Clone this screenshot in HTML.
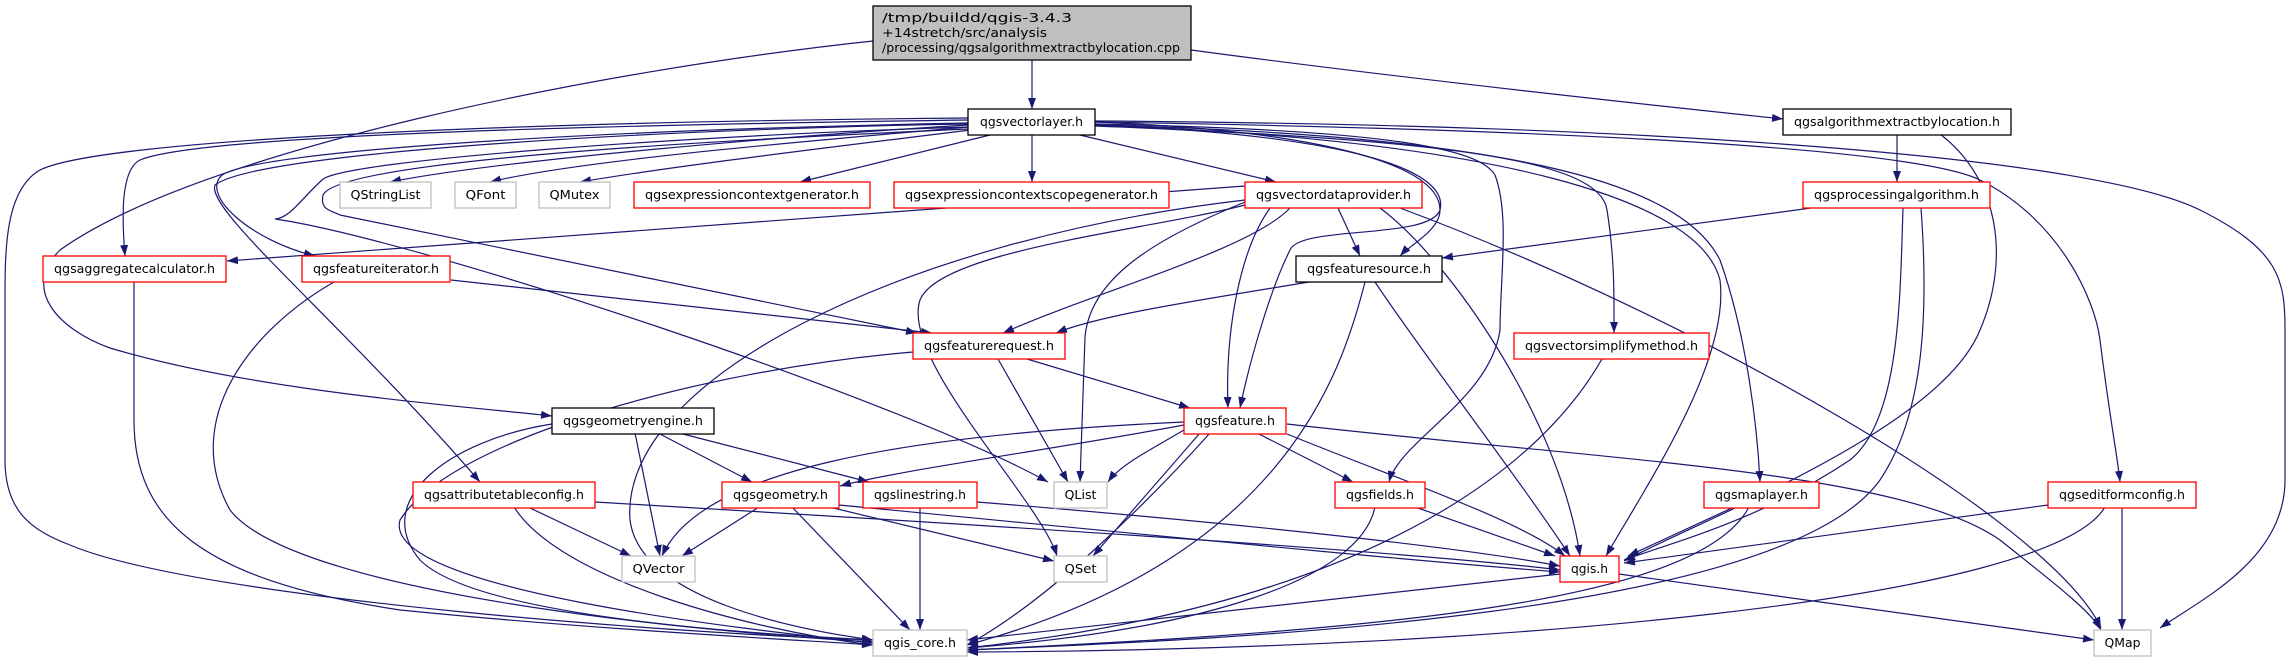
<!DOCTYPE html>
<html><head><meta charset="utf-8"><style>
html,body{margin:0;padding:0;background:#fff;}
svg{display:block;}
text{font-family:"DejaVu Sans","Liberation Sans",sans-serif;font-size:12px;fill:#000;}
.e{fill:none;stroke:#191970;stroke-width:1.2;marker-end:url(#a);}
.n{fill:#fff;stroke-width:1.3;}
.k{stroke:#000;}.r{stroke:#ff0000;}.g{stroke:#bfbfbf;}
</style></head><body>
<svg width="2289" height="664" viewBox="0 0 2289 664" xmlns="http://www.w3.org/2000/svg">
<defs><marker id="a" markerUnits="userSpaceOnUse" markerWidth="11" markerHeight="8" refX="11" refY="4" orient="auto"><path d="M0,0 L11,4 L0,8 z" fill="#191970"/></marker></defs>
<g>
<path class="e" d="M1032,60 L1032,109"/>
<path class="e" d="M1191,50 C1400,78 1650,105 1783,119"/>
<path class="e" d="M873,41 C600,70 200,150 60,250 C20,290 60,330 110,348 C250,390 450,405 552,416"/>
<path class="e" d="M968,125 C800,135 500,160 390,182"/>
<path class="e" d="M968,127 C820,140 580,160 490,182"/>
<path class="e" d="M970,130 C850,145 680,165 580,182"/>
<path class="e" d="M990,135 L800,182"/>
<path class="e" d="M1032,135 L1032,182"/>
<path class="e" d="M968,120 C600,125 200,135 140,160 C120,170 122,220 125,256"/>
<path class="e" d="M968,118 C500,122 100,140 40,170 C5,190 5,250 5,300 L5,460 C5,510 30,530 70,545 C200,600 700,635 873,640"/>
<path class="e" d="M968,123 C600,130 260,150 222,175 C200,195 250,240 315,256"/>
<path class="e" d="M968,124 C700,128 260,150 215,185 C205,210 340,320 480,482"/>
<path class="e" d="M968,127 C700,135 340,160 322,180 C300,200 290,218 275,219 C420,240 900,400 1048,482"/>
<path class="e" d="M968,129 C720,140 340,160 323,195 C320,210 330,210 340,215 L917,333"/>
<path class="e" d="M1080,135 L1276,182"/>
<path class="e" d="M1095,122 C1300,130 1440,160 1440,210 C1440,230 1410,245 1400,256"/>
<path class="e" d="M1095,125 C1350,135 1450,170 1440,210 C1430,240 1300,225 1290,250 C1270,290 1250,360 1240,408"/>
<path class="e" d="M1270,208 C1240,250 1225,330 1228,408"/>
<path class="e" d="M1095,124 C1400,130 1480,150 1495,175 C1510,215 1500,280 1500,330 C1490,400 1400,440 1389,482"/>
<path class="e" d="M1095,125 C1500,140 1700,200 1720,280 C1730,360 1650,480 1606,556"/>
<path class="e" d="M1095,125 C1500,135 1680,180 1720,260 C1745,330 1757,420 1760,482"/>
<path class="e" d="M1095,126 C1450,140 1600,160 1607,210 C1615,260 1614,300 1614,333"/>
<path class="e" d="M1095,122 C1600,130 1920,150 1980,180 C2060,220 2095,300 2100,340 C2110,420 2118,460 2120,482"/>
<path class="e" d="M1095,121 C1700,125 2100,160 2200,210 C2280,250 2285,280 2285,330 L2285,480 C2285,560 2200,600 2160,628"/>
<path class="e" d="M1245,205 C1150,230 940,250 920,300 C900,360 1040,500 1057,556"/>
<path class="e" d="M1250,200 C1150,240 1090,280 1085,337 L1080,482"/>
<path class="e" d="M1245,186 L227,261"/>
<path class="e" d="M1290,208 C1250,250 1100,290 1003,333"/>
<path class="e" d="M1380,208 C1450,260 1560,420 1580,556"/>
<path class="e" d="M1400,208 C1700,320 2050,520 2101,628"/>
<path class="e" d="M1245,200 C900,240 620,380 630,520 C640,600 800,630 873,640"/>
<path class="e" d="M1338,208 L1360,256"/>
<path class="e" d="M1309,282 C1200,300 1100,315 1056,333"/>
<path class="e" d="M1375,282 C1420,350 1520,480 1570,556"/>
<path class="e" d="M1365,282 C1340,380 1280,560 967,645"/>
<path class="e" d="M451,280 L932,333"/>
<path class="e" d="M334,282 C250,330 180,420 230,510 C300,600 750,635 873,642"/>
<path class="e" d="M134,282 L134,420 C134,520 200,580 400,610 C600,630 800,640 873,645"/>
<path class="e" d="M998,359 L1068,482"/>
<path class="e" d="M1027,359 L1190,408"/>
<path class="e" d="M913,352 C700,370 450,440 400,520 C380,590 750,630 873,643"/>
<path class="e" d="M635,433 L660,556"/>
<path class="e" d="M658,433 L752,482"/>
<path class="e" d="M679,433 L869,482"/>
<path class="e" d="M552,424 C450,440 370,500 420,560 C480,620 780,635 873,640"/>
<path class="e" d="M528,507 L631,556"/>
<path class="e" d="M595,502 C900,520 1400,550 1560,570"/>
<path class="e" d="M514,507 C560,580 750,630 873,645"/>
<path class="e" d="M759,507 L682,556"/>
<path class="e" d="M792,507 L910,630"/>
<path class="e" d="M829,507 L1054,561"/>
<path class="e" d="M839,505 C1100,530 1400,560 1560,572"/>
<path class="e" d="M920,507 L920,630"/>
<path class="e" d="M977,502 C1200,520 1450,545 1560,566"/>
<path class="e" d="M1184,430 C1150,450 1120,465 1108,482"/>
<path class="e" d="M1184,422 C900,435 700,470 662,556"/>
<path class="e" d="M1184,425 C1050,450 900,470 840,486"/>
<path class="e" d="M1257,433 L1353,482"/>
<path class="e" d="M1287,434 C1400,480 1520,520 1565,556"/>
<path class="e" d="M1287,424 C1600,460 1900,470 2000,540 C2050,580 2090,610 2101,630"/>
<path class="e" d="M1210,433 C1150,500 1050,600 967,645"/>
<path class="e" d="M1200,433 L1093,556"/>
<path class="e" d="M1415,507 L1555,556"/>
<path class="e" d="M1375,507 C1360,580 1200,630 967,648"/>
<path class="e" d="M1734,507 L1628,556"/>
<path class="e" d="M1749,507 C1700,600 1400,630 967,650"/>
<path class="e" d="M2048,505 L1624,563"/>
<path class="e" d="M2122,507 L2122,630"/>
<path class="e" d="M2105,507 C2050,600 1500,650 967,652"/>
<path class="e" d="M1619,574 L2094,640"/>
<path class="e" d="M1560,574 L967,640"/>
<path class="e" d="M1602,359 C1550,450 1400,600 967,648"/>
<path class="e" d="M1897,135 L1897,182"/>
<path class="e" d="M1940,134 C2000,180 2010,260 1980,330 C1940,430 1700,520 1624,561"/>
<path class="e" d="M1811,208 L1442,258"/>
<path class="e" d="M1903,208 C1900,300 1900,420 1850,460 C1760,520 1680,540 1624,560"/>
<path class="e" d="M1921,208 C1930,330 1920,420 1880,480 C1780,620 1200,640 967,650"/>
</g>
<g>
<rect x="873" y="6" width="318" height="54" fill="#bfbfbf" stroke="#000" stroke-width="1.3"/>
<text x="882" y="22" textLength="190" lengthAdjust="spacingAndGlyphs">/tmp/buildd/qgis-3.4.3</text>
<text x="882" y="37" textLength="165" lengthAdjust="spacingAndGlyphs">+14stretch/src/analysis</text>
<text x="882" y="52" textLength="298" lengthAdjust="spacingAndGlyphs">/processing/qgsalgorithmextractbylocation.cpp</text>

<rect class="n k" x="968" y="109" width="127" height="26"/><text x="1031.5" y="126" text-anchor="middle" textLength="103" lengthAdjust="spacingAndGlyphs">qgsvectorlayer.h</text>
<rect class="n k" x="1783" y="109" width="228" height="26"/><text x="1897" y="126" text-anchor="middle" textLength="206" lengthAdjust="spacingAndGlyphs">qgsalgorithmextractbylocation.h</text>
<rect class="n g" x="340" y="182" width="91" height="26"/><text x="385.5" y="199" text-anchor="middle" textLength="70" lengthAdjust="spacingAndGlyphs">QStringList</text>
<rect class="n g" x="455" y="182" width="61" height="26"/><text x="485.5" y="199" text-anchor="middle" textLength="40" lengthAdjust="spacingAndGlyphs">QFont</text>
<rect class="n g" x="539" y="182" width="71" height="26"/><text x="574.5" y="199" text-anchor="middle" textLength="50" lengthAdjust="spacingAndGlyphs">QMutex</text>
<rect class="n r" x="634" y="182" width="236" height="26"/><text x="752" y="199" text-anchor="middle" textLength="214" lengthAdjust="spacingAndGlyphs">qgsexpressioncontextgenerator.h</text>
<rect class="n r" x="894" y="182" width="275" height="26"/><text x="1031.5" y="199" text-anchor="middle" textLength="253" lengthAdjust="spacingAndGlyphs">qgsexpressioncontextscopegenerator.h</text>
<rect class="n r" x="1245" y="182" width="177" height="26"/><text x="1333.5" y="199" text-anchor="middle" textLength="155" lengthAdjust="spacingAndGlyphs">qgsvectordataprovider.h</text>
<rect class="n r" x="1803" y="182" width="187" height="26"/><text x="1896.5" y="199" text-anchor="middle" textLength="165" lengthAdjust="spacingAndGlyphs">qgsprocessingalgorithm.h</text>
<rect class="n r" x="43" y="256" width="183" height="26"/><text x="134.5" y="273" text-anchor="middle" textLength="161" lengthAdjust="spacingAndGlyphs">qgsaggregatecalculator.h</text>
<rect class="n r" x="302" y="256" width="148" height="26"/><text x="376" y="273" text-anchor="middle" textLength="126" lengthAdjust="spacingAndGlyphs">qgsfeatureiterator.h</text>
<rect class="n k" x="1296" y="256" width="146" height="26"/><text x="1369" y="273" text-anchor="middle" textLength="124" lengthAdjust="spacingAndGlyphs">qgsfeaturesource.h</text>
<rect class="n r" x="913" y="333" width="152" height="26"/><text x="989" y="350" text-anchor="middle" textLength="130" lengthAdjust="spacingAndGlyphs">qgsfeaturerequest.h</text>
<rect class="n r" x="1514" y="333" width="195" height="26"/><text x="1611.5" y="350" text-anchor="middle" textLength="173" lengthAdjust="spacingAndGlyphs">qgsvectorsimplifymethod.h</text>
<rect class="n k" x="552" y="408" width="162" height="26"/><text x="633" y="425" text-anchor="middle" textLength="140" lengthAdjust="spacingAndGlyphs">qgsgeometryengine.h</text>
<rect class="n r" x="1184" y="408" width="102" height="26"/><text x="1235" y="425" text-anchor="middle" textLength="80" lengthAdjust="spacingAndGlyphs">qgsfeature.h</text>
<rect class="n r" x="413" y="482" width="182" height="26"/><text x="504" y="499" text-anchor="middle" textLength="160" lengthAdjust="spacingAndGlyphs">qgsattributetableconfig.h</text>
<rect class="n r" x="722" y="482" width="117" height="26"/><text x="780.5" y="499" text-anchor="middle" textLength="95" lengthAdjust="spacingAndGlyphs">qgsgeometry.h</text>
<rect class="n r" x="863" y="482" width="114" height="26"/><text x="920" y="499" text-anchor="middle" textLength="92" lengthAdjust="spacingAndGlyphs">qgslinestring.h</text>
<rect class="n g" x="1054" y="482" width="53" height="26"/><text x="1080.5" y="499" text-anchor="middle" textLength="32" lengthAdjust="spacingAndGlyphs">QList</text>
<rect class="n r" x="1335" y="482" width="90" height="26"/><text x="1380" y="499" text-anchor="middle" textLength="68" lengthAdjust="spacingAndGlyphs">qgsfields.h</text>
<rect class="n r" x="1704" y="482" width="115" height="26"/><text x="1761.5" y="499" text-anchor="middle" textLength="93" lengthAdjust="spacingAndGlyphs">qgsmaplayer.h</text>
<rect class="n r" x="2048" y="482" width="148" height="26"/><text x="2122" y="499" text-anchor="middle" textLength="126" lengthAdjust="spacingAndGlyphs">qgseditformconfig.h</text>
<rect class="n g" x="622" y="556" width="73" height="26"/><text x="658.5" y="573" text-anchor="middle" textLength="52" lengthAdjust="spacingAndGlyphs">QVector</text>
<rect class="n g" x="1054" y="556" width="53" height="26"/><text x="1080.5" y="573" text-anchor="middle" textLength="32" lengthAdjust="spacingAndGlyphs">QSet</text>
<rect class="n r" x="1560" y="556" width="59" height="26"/><text x="1589.5" y="573" text-anchor="middle" textLength="37" lengthAdjust="spacingAndGlyphs">qgis.h</text>
<rect class="n g" x="873" y="630" width="94" height="26"/><text x="920" y="647" text-anchor="middle" textLength="72" lengthAdjust="spacingAndGlyphs">qgis_core.h</text>
<rect class="n g" x="2094" y="630" width="57" height="26"/><text x="2122.5" y="647" text-anchor="middle" textLength="36" lengthAdjust="spacingAndGlyphs">QMap</text>
</g>
</svg>
</body></html>
